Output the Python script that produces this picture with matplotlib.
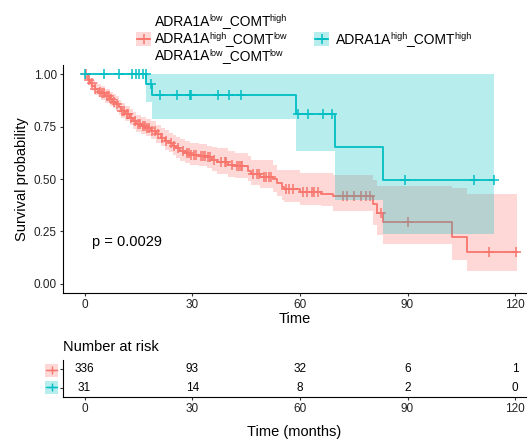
import numpy as np
import matplotlib
matplotlib.use('Agg')
import matplotlib.pyplot as plt
from matplotlib.patches import Rectangle
from matplotlib.lines import Line2D

plt.rcParams['font.family'] = ['Liberation Sans', 'DejaVu Sans']

RED = '#F8766D'
CYAN = '#00BFC4'

# red group: step times, survival, CI upper, CI lower
red_t = [0, 1.0, 1.5, 2.2, 2.8, 3.8, 4.7, 5.8, 7.0, 8.0, 8.8, 9.5, 10.2, 11.4, 12.6,
         13.5, 14.4, 15.8, 17.2, 18.5, 20.0, 21.2, 22.3, 23.5, 24.6, 25.5, 26.5, 28.0,
         29.3, 32.0, 34.0, 35.5, 37.0, 40.0, 42.0, 45.6, 46.5, 49.0, 52.6, 53.5, 54.9,
         55.5, 60.0, 66.0, 69.3, 80.3, 81.4, 83.1, 102.3, 106.7, 120.5]
red_s = [1.0, 0.975, 0.96, 0.945, 0.93, 0.918, 0.909, 0.895, 0.882, 0.87, 0.858, 0.842,
         0.826, 0.81, 0.794, 0.778, 0.762, 0.754, 0.746, 0.73, 0.714, 0.698, 0.683, 0.671,
         0.659, 0.647, 0.635, 0.625, 0.615, 0.61, 0.603, 0.592, 0.579, 0.566, 0.561, 0.54,
         0.522, 0.51, 0.498, 0.482, 0.46, 0.45, 0.437, 0.43, 0.418, 0.381, 0.338, 0.293,
         0.222, 0.152, 0.152]
red_hi = [1.0, 0.995, 0.985, 0.975, 0.962, 0.952, 0.944, 0.93, 0.917, 0.906, 0.895, 0.88,
          0.865, 0.85, 0.835, 0.82, 0.805, 0.797, 0.789, 0.775, 0.76, 0.745, 0.732, 0.721,
          0.71, 0.70, 0.69, 0.68, 0.672, 0.667, 0.66, 0.655, 0.649, 0.635, 0.625, 0.61,
          0.593, 0.593, 0.565, 0.545, 0.545, 0.545, 0.53, 0.53, 0.517, 0.497, 0.466, 0.466,
          0.455, 0.43, 0.43]
red_lo = [1.0, 0.955, 0.938, 0.92, 0.903, 0.89, 0.88, 0.865, 0.85, 0.838, 0.825, 0.808,
          0.792, 0.775, 0.758, 0.741, 0.724, 0.715, 0.706, 0.69, 0.673, 0.656, 0.64, 0.627,
          0.613, 0.6, 0.588, 0.577, 0.566, 0.56, 0.552, 0.54, 0.525, 0.51, 0.505, 0.49,
          0.47, 0.455, 0.44, 0.418, 0.40, 0.39, 0.378, 0.37, 0.346, 0.282, 0.234, 0.187,
          0.115, 0.059, 0.059]
red_cens = [0.5, 1.2, 2.0, 3.0, 4.2, 5.0, 5.5, 6.2, 6.8, 7.5, 8.3, 9.0, 10.5, 11.0, 11.8,
            12.2, 13.0, 14.0, 15.0, 15.5, 16.2, 16.8, 17.5, 18.0, 18.8, 19.5, 20.5, 21.5,
            22.8, 24.0, 25.0, 26.0, 27.5, 28.5, 29.0, 29.8, 30.5, 31.0, 32.5, 33.0, 33.5,
            34.5, 35.0, 36.0, 38.0, 39.0, 39.5, 41.0, 42.5, 43.0, 43.5, 44.0, 47.0, 48.0,
            48.5, 50.0, 50.5, 51.5, 52.0, 56.0, 57.0, 58.0, 61.0, 62.0, 63.5, 64.0, 65.0,
            72.0, 73.0, 75.0, 77.0, 78.5, 79.4, 82.5, 90.0, 112.6, 120.3]

# cyan group
cyan_t = [0, 17.2, 18.9, 58.8, 69.9, 83.1, 114.2]
cyan_s = [1.0, 0.954, 0.903, 0.813, 0.652, 0.493, 0.493]
cyan_hi = [1.0, 1.0, 1.0, 1.0, 1.0, 1.0, 1.0]
cyan_lo = [1.0, 0.869, 0.786, 0.636, 0.399, 0.236, 0.236]
cyan_cens = [0.2, 5.3, 9.5, 13.2, 14.2, 15.2, 16.2, 17.0, 18.5, 20.9, 25.9, 29.3, 29.8,
             37.2, 40.3, 43.5, 59.5, 62.3, 66.4, 68.9, 89.3, 108.4, 114.0]

risk_times = [0, 30, 60, 90, 120]
risk_red = [336, 93, 32, 6, 1]
risk_cyan = [31, 14, 8, 2, 0]

# legend labels: (ADRA1A level, COMT level)
labels_red = [('low', 'high'), ('high', 'low'), ('low', 'low')]
label_cyan = ('high', 'high')

W, H = 529, 443
fig = plt.figure(figsize=(W / 100, H / 100), dpi=100)


def px(x, y):
    return x / W, 1 - y / H


ax = fig.add_axes([63 / W, 1 - 293 / H, 463 / W, 228 / H])


def draw_group(t, s, hi, lo, cens, color):
    t = np.array(t)
    s = np.array(s)
    ax.plot(t, s, drawstyle='steps-post', color=color, lw=1.3, zorder=2)
    ax.fill_between(t, lo, hi, step='post', color=color, alpha=0.28, lw=0, zorder=3)
    idx = np.searchsorted(t, cens, side='right') - 1
    ax.plot(cens, s[idx], ls='none', marker='+', ms=7, mew=1.1, color=color, zorder=2)


draw_group(red_t, red_s, red_hi, red_lo, red_cens, RED)
draw_group(cyan_t, cyan_s, cyan_hi, cyan_lo, cyan_cens, CYAN)

ax.set_xlim(-6, 123)
ax.set_ylim(-0.045, 1.045)
ax.set_xticks(risk_times)
ax.set_yticks([0, 0.25, 0.5, 0.75, 1.0])
ax.set_yticklabels(['0.00', '0.25', '0.50', '0.75', '1.00'])
ax.tick_params(labelsize=8.5, colors='#333333', labelcolor='#222222', length=2, pad=2.5)
for sp in ['top', 'right']:
    ax.spines[sp].set_visible(False)
ax.set_xlabel('Time', fontsize=10.5, va='baseline')
ax.xaxis.set_label_coords(0.5, -0.133)
ax.set_ylabel('Survival probability', fontsize=10.5)
ax.yaxis.set_label_coords(-0.073, 0.5)
ax.text(2, 0.2, 'p = 0.0029', fontsize=10.5, ha='left', va='center')


def gene_label(x, base, lv1, lv2):
    # ADRA1A^lv1_COMT^lv2 with small raised superscripts
    parts = [('ADRA1A', False), (lv1, True), ('_COMT', False), (lv2, True)]
    prev = fig.text(*px(x, base), parts[0][0], fontsize=10, ha='left', va='baseline')
    for txt, sup in parts[1:]:
        prev = ax.annotate(txt, xy=(1, 1 - base / H), xycoords=(prev, 'figure fraction'),
                           xytext=(-0.8, 3.0) if sup else (-0.6, 0),
                           textcoords='offset points', fontsize=6.5 if sup else 10,
                           ha='left', va='baseline', annotation_clip=False)


for i, (a, b) in enumerate(labels_red):
    gene_label(155, 25.5 + 17.5 * i, a, b)
gene_label(336, 43.5, *label_cyan)

for x0, color in [(136, RED), (314, CYAN)]:
    fig.add_artist(Rectangle(px(x0, 45.5), 15 / W, 13.5 / H, transform=fig.transFigure,
                             color=color, alpha=0.28, lw=0))
    fig.add_artist(Line2D([(x0 + 1) / W, (x0 + 14) / W], [1 - 38.8 / H] * 2,
                          transform=fig.transFigure, color=color, lw=1.3))
    fig.add_artist(Line2D([(x0 + 7.5) / W], [1 - 38.8 / H], transform=fig.transFigure,
                          color=color, marker='+', ms=7, mew=1.1, ls='none'))

# risk table
rax = fig.add_axes([63 / W, 1 - 397 / H, 463 / W, 37 / H])
rax.set_xlim(-6, 123)
rax.set_ylim(0.5, 2.5)
for t, a, b in zip(risk_times, risk_red, risk_cyan):
    rax.text(t, 2, str(a), ha='center', va='center', fontsize=8.5)
    rax.text(t, 1, str(b), ha='center', va='center', fontsize=8.5)
rax.set_xticks(risk_times)
rax.set_yticks([1, 2])
rax.set_yticklabels(['', ''])
rax.tick_params(labelsize=8.5, colors='#333333', labelcolor='#222222', length=2, pad=2.5)
for sp in ['top', 'right']:
    rax.spines[sp].set_visible(False)
rax.set_xlabel('Time (months)', fontsize=10.5, va='baseline')
rax.xaxis.set_label_coords(0.5, -1.054)
fig.text(*px(63, 351), 'Number at risk', fontsize=10.5, ha='left', va='baseline')
for yy, color in [(370, RED), (387, CYAN)]:
    fig.add_artist(Rectangle(px(45, yy + 6.5), 13 / W, 13 / H, transform=fig.transFigure,
                             color=color, alpha=0.28, lw=0))
    fig.add_artist(Line2D([46 / W, 57 / W], [1 - yy / H] * 2, transform=fig.transFigure,
                          color=color, lw=1.0))
    fig.add_artist(Line2D([51.5 / W], [1 - yy / H], transform=fig.transFigure,
                          color=color, marker='+', ms=6, mew=1.0, ls='none'))

fig.savefig('out.png', dpi=100)
